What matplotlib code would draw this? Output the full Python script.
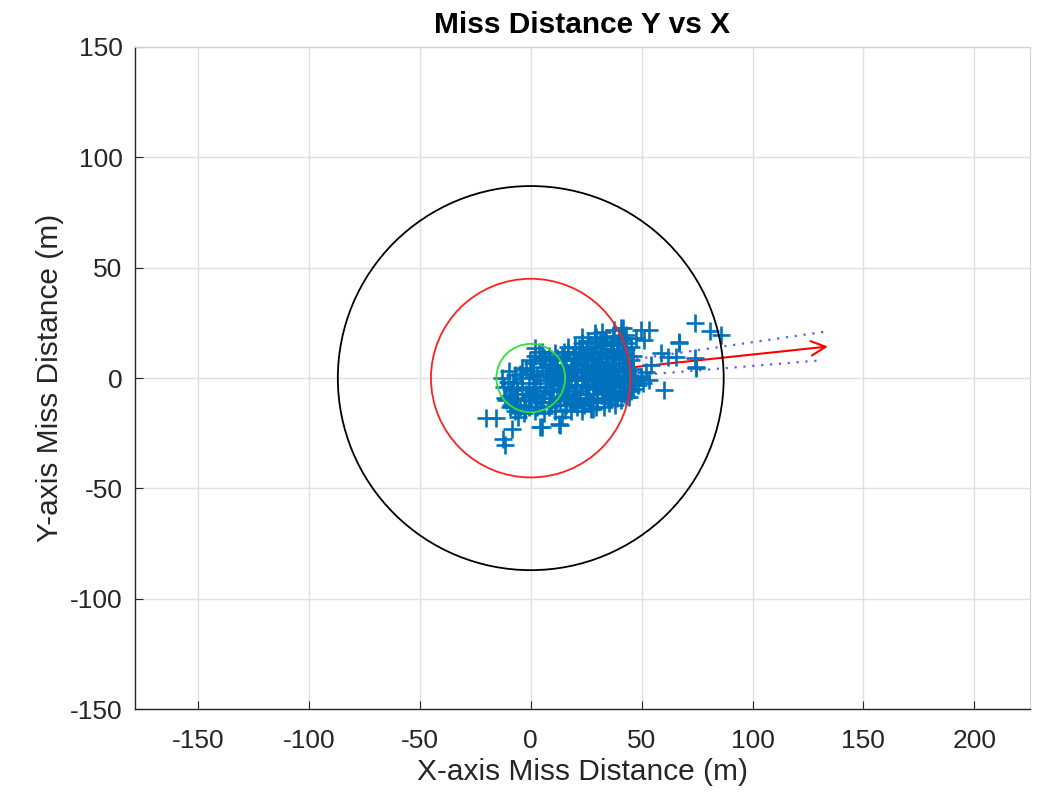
import matplotlib
matplotlib.use("Agg")
import matplotlib.pyplot as plt
from matplotlib.patches import Circle

plt.rcParams["font.family"] = ["Liberation Sans", "DejaVu Sans"]
plt.rcParams["axes.unicode_minus"] = False

# miss points (x, y) in metres
miss_x = [
    # dense core
    10, 12, 14, 15, 16, 17, 18, 19, 20, 21, 22, 22, 23, 24, 25, 25, 26, 27, 27, 28,
    29, 30, 30, 31, 32, 32, 33, 34, 34, 35, 36, 36, 37, 38, 38, 39, 40, 40, 41, 42,
    42, 43, 44, 44, 45, 13, 16, 19, 21, 24, 27, 30, 33, 36, 39, 42, 11, 14, 17, 20,
    23, 26, 29, 31, 34, 37, 40, 43, 45, 46, 46, 47, 46, 9, 8, 11, 18, 23, 28, 33,
    38, 26, 29, 32, 35, 37, 24, 20, 17, 15, 13, 31, 28, 33, 40, 43, 36,
    12, 14, 15, 16, 18, 18, 19, 20, 21, 22, 23, 23, 24, 25, 25, 26, 26, 27, 27, 28,
    28, 29, 29, 30, 30, 31, 31, 32, 32, 33, 33, 34, 34, 35, 35, 36, 36, 37, 37, 38,
    38, 39, 39, 40, 40, 41, 41, 42, 42, 43, 43, 44, 45, 45, 21, 19, 17, 16,
    10, 12, 13, 14, 9, 15,
    # near origin
    -12, -10, -8, -6, -5, -4, -3, -2, -1, 0, 1, 2, 3, 4, 5, 6, 7, 8, 9, 10,
    11, -9, -7, -3, 2, 6, -13, -10, 5, 8, -1, 3, 0, -6, 7, 11, 6,
    -11, -9, -7, -5, -4, -2, -1, 1, 1, 3, 4, 5, 7, 8, 9, 10, -8, -6, 4, 2,
    # scattered
    74, 81, 86, 67, 74, 74.6, 60.3, 58.7, 53.5, 49.7, 51.2, 47.4, 41.4, 65.5, 61.8, 54,
    51.8, 53.5, 49.7, 48.2, 67, 74.6, 50.5,
    -20, -15.5, -12.4, -11.7, -8.6, -5.6, 5, 13.3, -2.6, -9.4, -11.7, -8.6, -10.1, -7.1,
    -4.1, -0.3, 3.5, 1.8, 6.5, 11, 17, 23, 29, 21.7, 29.2, 32.3, 37.6, 40.6, 41.4, 42.8,
    15.6, 20, 26.2, 29.2, 35.3, 40.6, 44.4, 12.6, 4.2, 14,
]
miss_y = [
    -2, 3, -5, 6, 0, -8, 4, 9, -3, 1, 7, -7, 12, -1, 4, -9, 9, 0, 14, -5,
    6, 2, 11, -3, 15, 7, -7, 3, 10, -1, 13, 6, -4, 9, 1, 16, 4, -6, 11, 7,
    0, 13, 3, -3, 8, -10, -12, -10, -13, -12, -11, -9, -10, -8, -9, -7, 6, 10, 12, 14,
    16, 17, 18, 16, 18, 19, 19, 16, 14, 10, 4, -1, -5, -6, 2, -12, -15, -15, -14, -13,
    -12, -4, -1, -6, 5, 12, 10, 8, -4, -8, -1, 4, 8, 1, -2, -8, 15,
    -6, 2, -3, 8, -1, -11, 3, 11, -6, -10, 3, -3, 6, 13, 0, -7, 2, 5, -14, 11,
    1, -4, 14, -11, 6, 9, 0, -2, 12, 4, 17, -5, 7, 10, -9, 2, -3, 16, 7, -7,
    4, 12, 0, 9, 15, 3, -4, 18, 11, 5, -1, 10, 1, -6, 4, -7, 2, -9,
    4, 9, -3, 5, 0, 12,
    -4, -8, -2, -10, 2, -5, -12, 4, -2, -8, 7, -4, 1, -11, 5, -7, -1, -13, 6, -9,
    -15, -12, -15, -16, -15, -16, 0, 3, 12, 10, -13, -8, 3, -7, -4, 1, 9,
    -10, -5, -9, -13, 0, -7, -10, -6, 2, -13, -2, -9, 3, -6, -11, 0, -12, -4, 8, 10,
    25, 21.5, 19.5, 15.8, 9, 5.1, -5.5, 11.4, 21.8, 21.8, 17.3, 18, 22.7, 9.7, 9.7, 5.9,
    2.9, -0.9, 0.6, -3.2, 16.5, 4.5, -2.3,
    -18.3, -18.3, -27.4, -30.5, -22.9, -17.6, -22, -21.4, -14.5, -13, -9.2, -5.5, -1.7, 1.4,
    4.4, 8.2, 12, 13.6, 8.2, 11.4, 14.2, 18.8, 20.3, 13.5, 18.8, 21, 21.8, 22.6, 17.3, 19.5,
    -14.5, -11.5, -10, -13, -11.5, -10, -8.5, -20.6, -22.1, -17.6,
]

# circles (radius in metres) and colours
circle_r = [87, 45, 15.5]
circle_c = ["black", "#ff2020", "#33e033"]

# mean miss direction arrow and its bounds
arrow_start = (0, 0)
arrow_end = (134, 14.3)
bound_x = [[0, 134], [0, 131.5]]
bound_y = [[1.7, 21.2], [-2.7, 8.1]]

fig = plt.figure(figsize=(10.38, 7.96), dpi=100)
ax = fig.add_axes([0.130, 0.109, 0.862, 0.832])

ax.plot(miss_x, miss_y, "+", color="#0072BD", markersize=12.5, markeredgewidth=1.9, zorder=3)

for r, c in zip(circle_r, circle_c):
    ax.add_patch(Circle((0, 0), r, fill=False, edgecolor=c, linewidth=1.3, zorder=4))

for bx, by in zip(bound_x, bound_y):
    ax.plot(bx, by, linestyle=(0, (1, 3)), color="#5c5cff", linewidth=1.6, zorder=2.5)

ax.annotate("", xy=arrow_end, xytext=arrow_start,
            arrowprops=dict(arrowstyle="->", color="red", lw=1.5,
                            mutation_scale=26, shrinkA=0, shrinkB=0),
            zorder=2.6)

ax.set_xlim(-178.5, 225)
ax.set_ylim(-150, 150)
ax.set_xticks([-150, -100, -50, 0, 50, 100, 150, 200])
ax.set_yticks([-150, -100, -50, 0, 50, 100, 150])
ax.grid(True, color="#e0e0e0", linewidth=1.0)
ax.set_axisbelow(True)
ax.tick_params(direction="in", length=6, labelsize=19, colors="#262626")
ax.tick_params(axis="x", pad=14)
ax.tick_params(axis="y", pad=9)
for s in ["top", "right"]:
    ax.spines[s].set_color("#d0d0d0")
for s in ["left", "bottom"]:
    ax.spines[s].set_color("#262626")
    ax.spines[s].set_linewidth(1.0)

ax.set_xlabel("X-axis Miss Distance (m)", fontsize=21.5, color="#262626", labelpad=4)
ax.set_ylabel("Y-axis Miss Distance (m)", fontsize=21.5, color="#262626", labelpad=4)
ax.set_title("Miss Distance Y vs X", fontsize=21.5, fontweight="bold", pad=10)

fig.savefig("out.png", dpi=100)
